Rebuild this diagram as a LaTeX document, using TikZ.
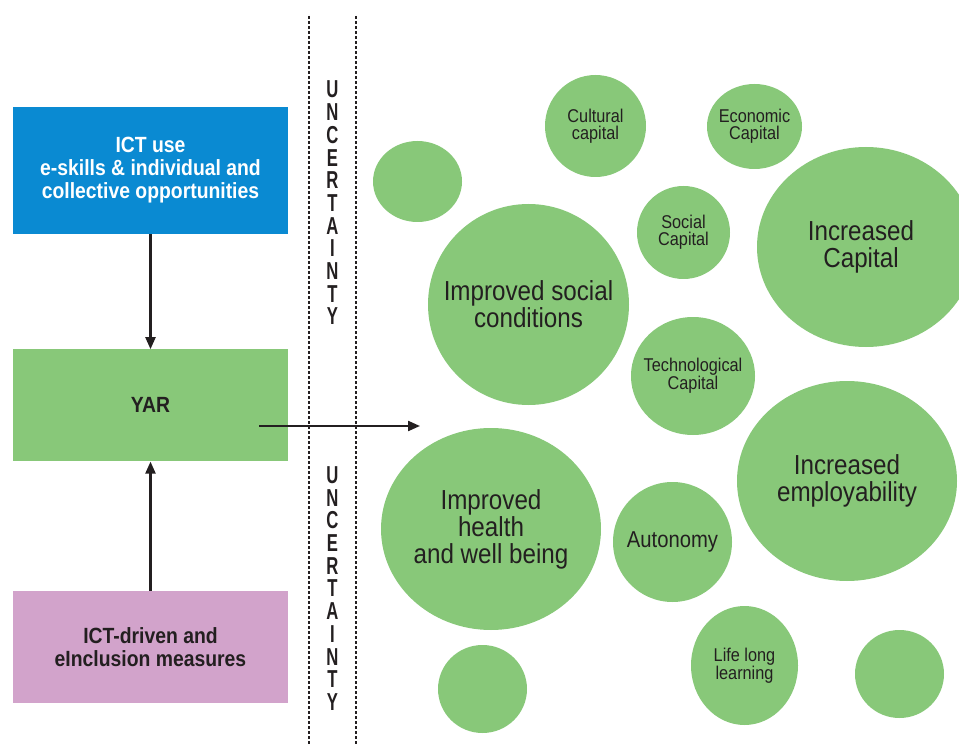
\documentclass[tikz,border=0pt]{standalone}
\usepackage{xcolor}
\usepackage{fontspec}
\usepackage{tikz}
\usetikzlibrary{positioning}
\usetikzlibrary{arrows.meta,shapes.geometric}

\newfontfamily\cnd[FakeStretch=0.88]{Liberation Sans}
\newfontfamily\cndx[FakeStretch=0.68]{Liberation Sans}

\definecolor{ictblue}{HTML}{0A8AD2}
\definecolor{yargreen}{HTML}{88C879}
\definecolor{incpink}{HTML}{D2A3CB}
\definecolor{inkdark}{HTML}{231F20}

\tikzset{
	box/.style={rectangle, minimum width=275pt, minimum height=112pt, inner sep=0pt, align=center, font=\cnd\bfseries\fontsize{22}{23}\selectfont, text=inkdark},
	bubble/.style n args={2}{ellipse, fill=yargreen, inner sep=0pt, minimum width=#1, minimum height=#2},
	bigtxt/.style={font=\cnd\fontsize{27.5}{27}\selectfont, text=inkdark, align=center},
	midtxt/.style={font=\cnd\fontsize{23}{24}\selectfont, text=inkdark, align=center},
	smalltxt/.style={font=\cnd\fontsize{18.5}{17}\selectfont, text=inkdark, align=center},
	link/.style={-{Triangle[length=12pt,width=10pt]}, line width=2.2pt, draw=inkdark},
	sepline/.style={draw=inkdark, line width=2.2pt, dash pattern=on 3pt off 2pt},
	unc/.style={font=\cndx\bfseries\fontsize{24.5}{22.7}\selectfont, text=inkdark, align=center, inner sep=0pt}
}

\begin{document}
\begin{tikzpicture}[x=1pt,y=-1pt]
	\useasboundingbox (0,0) rectangle (959,746);

	\node[box,fill=ictblue,text=white,minimum height=127pt] (ict) at (150.5,170.5) {ICT use\\e-skills \& individual and\\collective opportunities};
	\node[box,fill=yargreen] (yar) [below = 115pt of ict] {YAR};
	\node[box,fill=incpink] (incl) [below = 129pt of yar] {ICT-driven and\\eInclusion measures};

	\draw[link] (ict) -- (yar);
	\draw[link] (incl) -- (yar);

	\coordinate (yarout) at (259,426);
	\coordinate (impact) at (420,426);
	\draw[link] (yarout) -- (impact);

	\draw[sepline] (309,16) -- (309,746);
	\draw[sepline] (356,16) -- (356,746);
	\node[unc] (unc1) at (332.5,203) {U\\N\\C\\E\\R\\T\\A\\I\\N\\T\\Y};
	\node[unc] (unc2) at (332.5,588.5) {U\\N\\C\\E\\R\\T\\A\\I\\N\\T\\Y};

	\node[bubble={89pt}{81pt}] (blank1) at (417.5,181.5) {};
	\node[bubble={101pt}{102pt}] (cult) at (595.5,126) {};
	\node[smalltxt] (culttxt) at (cult) {Cultural\\capital};
	\node[bubble={95pt}{85pt}] (econ) at (754.5,126.5) {};
	\node[smalltxt] (econtxt) at (econ) {Economic\\Capital};
	\node[bubble={93pt}{93pt}] (soc) at (683.5,232.5) {};
	\node[smalltxt] (soctxt) at (soc) {Social\\Capital};
	\node[bubble={218pt}{200pt}] (capital) at (866,247) {};
	\node[bigtxt] (capitaltxt) at (861,247) {Increased\\Capital};
	\node[bubble={201pt}{201pt}] (cond) at (528.5,304.5) {};
	\node[bigtxt] (condtxt) at (cond) {Improved social\\conditions};
	\node[bubble={124pt}{118pt}] (tech) at (693,376) {};
	\node[smalltxt] (techtxt) at (tech) {Technological\\Capital};
	\node[bubble={220pt}{200pt}] (employ) at (847,481) {};
	\node[bigtxt] (employtxt) at (employ) {Increased\\employability};
	\node[bubble={220pt}{202pt}] (health) at (491,529) {};
	\node[bigtxt] (healthtxt) at (health) {Improved\\health\\and well being};
	\node[bubble={119pt}{120pt}] (auto) at (672.5,542) {};
	\node[midtxt] (autotxt) at (auto) {Autonomy};
	\node[bubble={107pt}{119pt}] (life) at (744.5,665.5) {};
	\node[smalltxt] (lifetxt) at (life) {Life long\\learning};
	\node[bubble={89pt}{88pt}] (blank2) at (482.5,689) {};
	\node[bubble={89pt}{88pt}] (blank3) at (899.5,674) {};
\end{tikzpicture}
\end{document}
